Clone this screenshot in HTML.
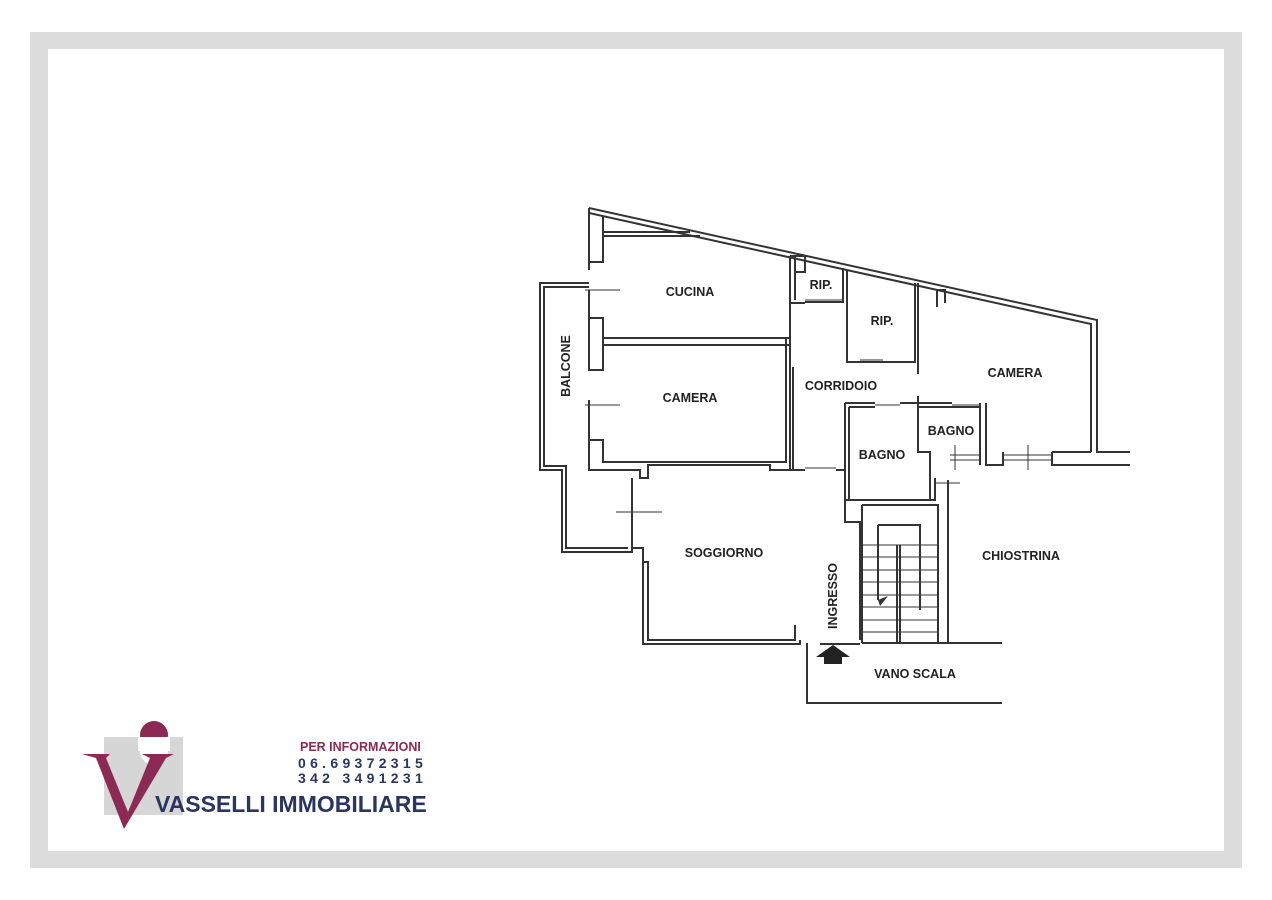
<!DOCTYPE html>
<html><head><meta charset="utf-8"><style>
html,body{margin:0;padding:0;background:#fff;}
svg{display:block;}
text{font-family:"Liberation Sans",sans-serif;font-weight:bold;}
</style></head><body>
<svg width="1272" height="900" viewBox="0 0 1272 900" xmlns="http://www.w3.org/2000/svg">
<rect width="1272" height="900" fill="#fff"/>
<rect x="30" y="32" width="1212" height="836" fill="#dcdcdc"/>
<rect x="48" y="49" width="1176" height="802" fill="#fff"/>
<g fill="none" stroke="#333" stroke-width="2">
<path d="M589,208 L1097,320 L1097,452 L1130,452"/>
<path d="M589,213 L1091,324 L1091,452"/>
<path d="M589,208 L589,270 M603,216 L603,262 L589,262"/>
<path d="M603,236 L700,236 M603,232 L690,232"/>
<path d="M589,290 L589,318 M589,318 L603,318 L603,370 L589,370 Z"/>
<path d="M603,338 L790,338 L790,345 L603,345"/>
<path d="M589,400 L589,440 M589,440 L603,440 L603,462 L786,462 L786,338"/>
<path d="M589,440 L589,470 L640,470 L640,478 L648,478 L648,465 L770,465 L770,470 L805,470"/>
<path d="M836,470 L845,470 L845,500 L935,500 L935,478"/>
<path d="M790,256 L790,303 L805,303 M795,256 L795,300"/>
<path d="M790,303 L790,470 M793,403 L793,367 M793,470 L793,403"/>
<path d="M790,256 L805,256 L805,272 L795,272 M843,268 L843,302 L830,302"/>
<path d="M805,302 L830,302"/>
<path d="M847,270 L847,362 L860,362 M883,362 L915,362 L915,283 M918,283 L918,374 M883,362 L860,362"/>
<path d="M845,403 L875,403 M900,403 L918,403 M845,403 L845,500 M849,407 L849,500 M849,407 L875,407 M918,396 L918,452 L930,452 L930,500"/>
<path d="M918,403 L952,403 M918,407 L980,407 M980,403 L980,465 M986,403 L986,465 L1003,465 L1003,452"/>
<path d="M1052,452 L1052,465 L1130,465 M1052,452 L1091,452"/>
<path d="M937,307 L937,290 L945,290 L945,303"/>
<path d="M589,283 L540,283 L540,470 L562,470 L562,552 L632,552 L632,478"/>
<path d="M589,287 L544,287 L544,466 L566,466 L566,548 L628,548"/>
<path d="M632,548 L643,548 L643,562 L648,562 L648,640 L795,640 L795,625 M643,562 L643,644 L800,644 L800,640"/>
<path d="M845,500 L845,522 L860,522 L860,640 M860,644 L820,644"/>
<path d="M862,505 L938,505 L938,643 M862,505 L862,643 M948,480 L948,643 M862,643 L1002,643"/>
<path d="M878,525 L920,525 L920,610 M878,525 L878,600"/>
<path d="M897,545 L897,643 M900,545 L900,643"/>
<path d="M807,643 L807,703 L1002,703"/>
</g>
<g stroke="#333" stroke-width="1">
<path d="M862,545 L938,545 M862,557 L938,557 M862,570 L938,570 M862,582 L938,582 M862,595 L938,595 M862,607 L938,607 M862,620 L938,620 M862,632 L938,632"/>
<path d="M585,290 L620,290 M585,405 L620,405 M616,512 L662,512 M935,483 L960,483 M955,445 L955,470 M1028,445 L1028,470"/>
<path d="M950,455 L980,455 M950,460 L980,460 M1003,455 L1052,455 M1003,460 L1052,460 M805,300 L843,300 M860,360 L883,360 M875,405 L900,405 M952,405 L980,405 M805,468 L836,468"/>
</g>
<polygon points="878,600 888,596 880,606" fill="#333"/>
<polygon points="833,645 850,657 842,657 842,664 824,664 824,657 816,657" fill="#222"/>
<g fill="#222" font-size="12.5" text-anchor="middle">
<text x="690" y="296">CUCINA</text>
<text x="690" y="402">CAMERA</text>
<text x="821" y="289">RIP.</text>
<text x="882" y="325">RIP.</text>
<text x="841" y="390">CORRIDOIO</text>
<text x="1015" y="377">CAMERA</text>
<text x="951" y="435">BAGNO</text>
<text x="882" y="459">BAGNO</text>
<text x="724" y="557">SOGGIORNO</text>
<text x="1021" y="560">CHIOSTRINA</text>
<text x="915" y="678">VANO SCALA</text>
<text transform="translate(570,366) rotate(-90)">BALCONE</text>
<text transform="translate(837,596) rotate(-90)">INGRESSO</text>
</g>
<rect x="104" y="737" width="79" height="78" fill="#d6d6d6"/>
<circle cx="154" cy="735" r="14" fill="#8a2a55"/>
<rect x="138" y="737" width="32" height="14" fill="#fff"/>
<path d="M140,751 a14,14 0 0 0 28,0 Z" fill="#fff"/>
<polygon points="82,754 110,754 106,758 128,812 150,758 142,754 174,754 166,758 124,829 96,758" fill="#8a2a55"/>
<text x="300" y="751" font-size="12.5" fill="#8a2a55">PER INFORMAZIONI</text>
<text x="298" y="768" font-size="14" fill="#2a3560" letter-spacing="4.3">06.69372315</text>
<text x="298" y="783" font-size="14" fill="#2a3560" letter-spacing="4.3">342 3491231</text>
<text x="155" y="812" font-size="23" fill="#2a3560">VASSELLI IMMOBILIARE</text>
</svg>
</body></html>
